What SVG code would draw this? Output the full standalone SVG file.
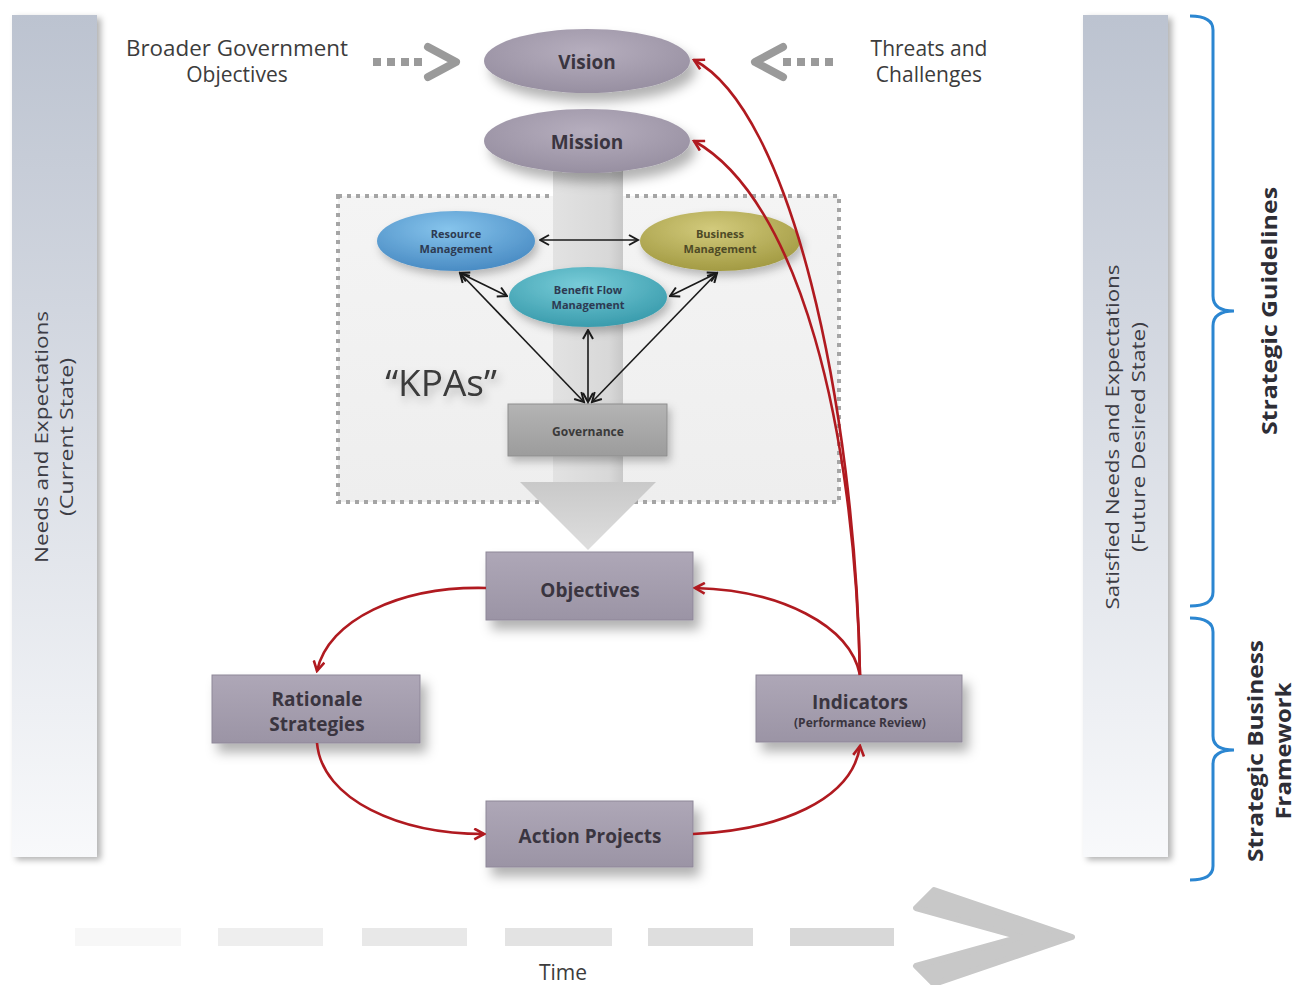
<svg xmlns="http://www.w3.org/2000/svg" width="1304" height="985" viewBox="0 0 1304 985">
<defs>
<style>
.t{font-family:"Open Sans","Noto Sans",sans-serif;fill:#3a3540;text-anchor:middle}
.b{font-weight:bold}
.lbl{font-family:"Open Sans","Noto Sans",sans-serif;fill:#3c3c3c;text-anchor:middle;font-size:21px}
.side{font-family:"Open Sans","Noto Sans",sans-serif;fill:#3c3c44;text-anchor:middle;font-size:18px}
.sideb{font-family:"Open Sans","Noto Sans",sans-serif;fill:#2e2e36;text-anchor:middle;font-size:21px;font-weight:bold}
.red{fill:none;stroke:#b01a20;stroke-width:2.6}
.blk{fill:none;stroke:#1a1a1a;stroke-width:1.6}
.brk{fill:none;stroke:#2b86d1;stroke-width:3}
.box{fill:url(#gBox);stroke:#8e8798;stroke-width:1}
.kt{font-family:"Open Sans","Noto Sans",sans-serif;font-size:11px;font-weight:bold;text-anchor:middle;fill:#2d3a52}
</style>
<linearGradient id="gPanel" x1="0" y1="0" x2="0" y2="1">
<stop offset="0" stop-color="#bcc3d0"/><stop offset="1" stop-color="#f8f9fb"/>
</linearGradient>
<linearGradient id="gBox" x1="0" y1="0" x2="0" y2="1">
<stop offset="0" stop-color="#aea7b7"/><stop offset="1" stop-color="#9b94a5"/>
</linearGradient>
<radialGradient id="gEll" cx="0.5" cy="0.35" r="0.7">
<stop offset="0" stop-color="#b6aebe"/><stop offset="1" stop-color="#958d9f"/>
</radialGradient>
<radialGradient id="gRes" cx="0.45" cy="0.3" r="0.7">
<stop offset="0" stop-color="#86c4ec"/><stop offset="1" stop-color="#4a8cc4"/>
</radialGradient>
<radialGradient id="gBus" cx="0.45" cy="0.3" r="0.7">
<stop offset="0" stop-color="#d2ca7c"/><stop offset="1" stop-color="#a39b43"/>
</radialGradient>
<radialGradient id="gBen" cx="0.45" cy="0.3" r="0.7">
<stop offset="0" stop-color="#78ccd8"/><stop offset="1" stop-color="#3a9cad"/>
</radialGradient>
<linearGradient id="gGov" x1="0" y1="0" x2="0" y2="1">
<stop offset="0" stop-color="#b4b4b4"/><stop offset="1" stop-color="#9c9c9c"/>
</linearGradient>
<linearGradient id="gBand" x1="0" y1="0" x2="1" y2="0">
<stop offset="0" stop-color="#e2e2e2"/><stop offset="0.8" stop-color="#d8d8d8"/><stop offset="1" stop-color="#c8c8c8"/>
</linearGradient>
<linearGradient id="gKpa" x1="0" y1="0" x2="0" y2="1">
<stop offset="0" stop-color="#f4f4f4"/><stop offset="1" stop-color="#eeeeee"/>
</linearGradient>
<linearGradient id="gArr" x1="0" y1="0" x2="0" y2="1">
<stop offset="0" stop-color="#c9c9c9"/><stop offset="1" stop-color="#dedede"/>
</linearGradient>
<filter id="sh" x="-20%" y="-20%" width="150%" height="170%">
<feDropShadow dx="6" dy="9" stdDeviation="6" flood-color="#000" flood-opacity="0.3"/>
</filter>
<filter id="shp" x="-20%" y="-5%" width="150%" height="115%">
<feDropShadow dx="4" dy="3" stdDeviation="3" flood-color="#000" flood-opacity="0.3"/>
</filter>
<filter id="sht" x="-20%" y="-20%" width="140%" height="170%">
<feDropShadow dx="3" dy="5" stdDeviation="4" flood-color="#000" flood-opacity="0.25"/>
</filter>
<marker id="mr" viewBox="0 0 12 12" refX="10.5" refY="6" markerWidth="13" markerHeight="13" markerUnits="userSpaceOnUse" orient="auto">
<path d="M1.5,1 L10.5,6 L1.5,11" fill="none" stroke="#b01a20" stroke-width="2.4"/>
</marker>
<marker id="mb" viewBox="0 0 12 12" refX="10.5" refY="6" markerWidth="12" markerHeight="12" markerUnits="userSpaceOnUse" orient="auto-start-reverse">
<path d="M1.5,1 L10.5,6 L1.5,11" fill="none" stroke="#1a1a1a" stroke-width="2"/>
</marker>
</defs>

<rect width="1304" height="985" fill="#ffffff"/>

<!-- side panels -->
<g id="panel-left">
<rect x="12" y="15" width="85" height="842" fill="url(#gPanel)" filter="url(#shp)"/>
<text class="side" transform="translate(48,437) rotate(-90)" textLength="252" lengthAdjust="spacingAndGlyphs">Needs and Expectations</text>
<text class="side" transform="translate(73,437) rotate(-90)" textLength="158" lengthAdjust="spacingAndGlyphs">(Current State)</text>
</g>
<g id="panel-right">
<rect x="1083" y="15" width="85" height="842" fill="url(#gPanel)" filter="url(#shp)"/>
<text class="side" transform="translate(1119,437) rotate(-90)" textLength="345" lengthAdjust="spacingAndGlyphs">Satisfied Needs and Expectations</text>
<text class="side" transform="translate(1145,437) rotate(-90)" textLength="230" lengthAdjust="spacingAndGlyphs">(Future Desired State)</text>
</g>

<!-- brackets -->
<g id="bracket-guidelines">
<path class="brk" d="M1190,16 Q1213,16 1213,30 L1213,296 Q1213,311 1234,311 Q1213,311 1213,326 L1213,592 Q1213,606 1190,606"/>
<text class="sideb" transform="translate(1277,311) rotate(-90)" textLength="248" lengthAdjust="spacingAndGlyphs">Strategic Guidelines</text>
</g>
<g id="bracket-framework">
<path class="brk" d="M1190,618 Q1213,618 1213,632 L1213,736 Q1213,750 1234,750 Q1213,750 1213,764 L1213,866 Q1213,880 1190,880"/>
<text class="sideb" transform="translate(1263,751) rotate(-90)" textLength="222" lengthAdjust="spacingAndGlyphs">Strategic Business</text>
<text class="sideb" transform="translate(1291,751) rotate(-90)" textLength="137" lengthAdjust="spacingAndGlyphs">Framework</text>
</g>

<!-- time arrow -->
<g id="time">
<rect x="75" y="928" width="106" height="18" fill="#f7f7f7"/>
<rect x="218" y="928" width="105" height="18" fill="#eeeeee"/>
<rect x="362" y="928" width="105" height="18" fill="#e8e8e8"/>
<rect x="505" y="928" width="107" height="18" fill="#e3e3e3"/>
<rect x="648" y="928" width="105" height="18" fill="#dedede"/>
<rect x="790" y="928" width="104" height="18" fill="#d8d8d8"/>
<polygon points="934,890 1072,937 934,984 916,966 1020,937 916,908" fill="#c8c8c8" stroke="#c8c8c8" stroke-width="6" stroke-linejoin="round"/>
<text class="lbl" x="563" y="980">Time</text>
</g>

<!-- top labels -->
<g id="broader">
<text class="lbl" x="237" y="56" textLength="222" lengthAdjust="spacingAndGlyphs">Broader Government</text>
<text class="lbl" x="237" y="82">Objectives</text>
<g fill="#9a9a9a">
<rect x="373" y="58" width="8" height="8"/><rect x="387" y="58" width="8" height="8"/><rect x="401" y="58" width="8" height="8"/><rect x="414" y="58" width="8" height="8"/>
</g>
<path d="M428,47 L456,62 L428,77" fill="none" stroke="#9a9a9a" stroke-width="8" stroke-linecap="round" stroke-linejoin="round"/>
</g>
<g id="threats">
<text class="lbl" x="929" y="56">Threats and</text>
<text class="lbl" x="929" y="82">Challenges</text>
<g fill="#9a9a9a">
<rect x="783" y="58" width="8" height="8"/><rect x="797" y="58" width="8" height="8"/><rect x="811" y="58" width="8" height="8"/><rect x="825" y="58" width="8" height="8"/>
</g>
<path d="M783,47 L755,62 L783,77" fill="none" stroke="#9a9a9a" stroke-width="8" stroke-linecap="round" stroke-linejoin="round"/>
</g>

<!-- KPA area -->
<g id="kpa-area">
<rect x="338" y="196" width="501" height="306" fill="url(#gKpa)"/>
<rect x="338" y="196" width="501" height="306" fill="none" stroke="#a5a5a5" stroke-width="4" stroke-dasharray="4 5"/>
<rect x="553" y="165" width="70" height="320" fill="url(#gBand)"/>
<polygon points="520,482 656,482 588,550" fill="url(#gArr)"/>
<text x="441" y="396" font-family="'Open Sans','Noto Sans',sans-serif" font-size="37" fill="#3a3a3a" text-anchor="middle" filter="url(#sht)">“KPAs”</text>
</g>

<!-- nodes -->
<g id="vision">
<ellipse cx="587" cy="61" rx="103" ry="32" fill="url(#gEll)" filter="url(#sh)"/>
<text class="t b" x="587" y="69" font-size="19">Vision</text>
</g>
<g id="mission">
<ellipse cx="587" cy="141" rx="103" ry="32" fill="url(#gEll)" filter="url(#sh)"/>
<text class="t b" x="587" y="149" font-size="19">Mission</text>
</g>
<g id="resource">
<ellipse cx="456" cy="241" rx="79" ry="30" fill="url(#gRes)" filter="url(#sht)"/>
<text class="kt" x="456" y="238">Resource</text>
<text class="kt" x="456" y="253">Management</text>
</g>
<g id="business">
<ellipse cx="720" cy="241" rx="80" ry="30" fill="url(#gBus)" filter="url(#sht)"/>
<text class="kt" x="720" y="238" style="fill:#4e4a26">Business</text>
<text class="kt" x="720" y="253" style="fill:#4e4a26">Management</text>
</g>
<g id="benefit">
<ellipse cx="588" cy="297" rx="79" ry="30" fill="url(#gBen)" filter="url(#sht)"/>
<text class="kt" x="588" y="294">Benefit Flow</text>
<text class="kt" x="588" y="309">Management</text>
</g>
<g id="governance">
<rect x="508" y="404" width="159" height="52" fill="url(#gGov)" stroke="#8e8e8e" stroke-width="1" filter="url(#sht)"/>
<text class="t b" x="588" y="436" font-size="12" style="fill:#3a3a3a">Governance</text>
</g>
<g id="objectives">
<rect class="box" x="486" y="552" width="207" height="68" filter="url(#sh)"/>
<text class="t b" x="590" y="597" font-size="19">Objectives</text>
</g>
<g id="rationale">
<rect class="box" x="212" y="675" width="208" height="68" filter="url(#sh)"/>
<text class="t b" x="317" y="706" font-size="19">Rationale</text>
<text class="t b" x="317" y="731" font-size="19">Strategies</text>
</g>
<g id="indicators">
<rect class="box" x="756" y="675" width="206" height="67" filter="url(#sh)"/>
<text class="t b" x="860" y="709" font-size="19">Indicators</text>
<text class="t b" x="860" y="727" font-size="12">(Performance Review)</text>
</g>
<g id="action">
<rect class="box" x="486" y="801" width="207" height="66" filter="url(#sh)"/>
<text class="t b" x="590" y="843" font-size="19">Action Projects</text>
</g>

<!-- connectors -->
<g id="connectors">
<path class="blk" d="M540,240 L638,240" marker-start="url(#mb)" marker-end="url(#mb)"/>
<path class="blk" d="M460,273 L507,296" marker-start="url(#mb)" marker-end="url(#mb)"/>
<path class="blk" d="M717,273 L670,296" marker-start="url(#mb)" marker-end="url(#mb)"/>
<path class="blk" d="M460,273 L584,402" marker-start="url(#mb)" marker-end="url(#mb)"/>
<path class="blk" d="M717,273 L592,402" marker-start="url(#mb)" marker-end="url(#mb)"/>
<path class="blk" d="M588,330 L588,402" marker-start="url(#mb)" marker-end="url(#mb)"/>
<path class="red" d="M486,588 C400,586 328,620 317,671" marker-end="url(#mr)"/>
<path class="red" d="M317,743 C322,800 400,834 484,834" marker-end="url(#mr)"/>
<path class="red" d="M693,834 C780,830 852,800 860,746" marker-end="url(#mr)"/>
<path class="red" d="M860,675 C850,625 780,590 695,588" marker-end="url(#mr)"/>
<path class="red" d="M860,675 C855,400 790,110 694,60" marker-end="url(#mr)"/>
<path class="red" d="M860,675 C855,430 800,200 694,141" marker-end="url(#mr)"/>
</g>
</svg>
